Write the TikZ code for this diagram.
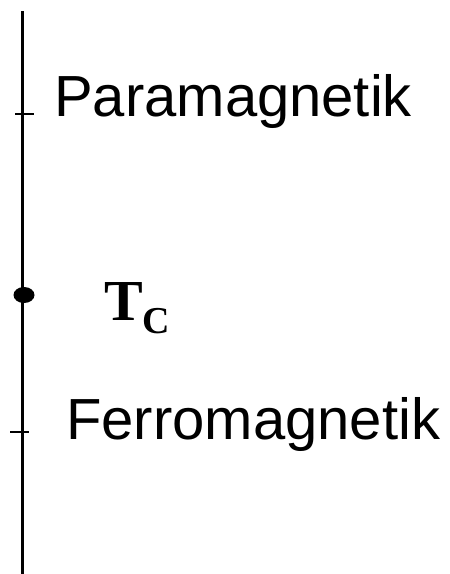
\documentclass[tikz,border=0pt]{standalone}
\usepackage{fontspec}
\setmainfont{Liberation Sans}
\newfontfamily\serifbf{Liberation Serif}
\tikzset{
  axisline/.style={line width=3pt, black},
  tickline/.style={line width=2pt, black},
  phaselabel/.style={anchor=base west, inner sep=0pt, font=\fontsize{58}{58}\selectfont},
}
\begin{document}
\begin{tikzpicture}[x=1pt,y=-1pt]
\useasboundingbox (0,0) rectangle (450,574);
\fill[white] (0,0) rectangle (450,574);
\coordinate (top) at (22.5,11);
\coordinate (bot) at (22.5,574);
\draw[axisline] (top) -- (bot);
\coordinate (t1a) at (15,114);
\coordinate (t1b) at (34,114);
\coordinate (t2a) at (10,432);
\coordinate (t2b) at (29,432);
\draw[tickline] (t1a) -- (t1b);
\draw[tickline] (t2a) -- (t2b);
\fill (24,295) ellipse (10.5 and 8);
\node[phaselabel] (para) at (54,116) {Paramagnetik};
\node[phaselabel] (ferro) at (66,439) {Ferromagnetik};
\node[anchor=base west, inner sep=0pt] (tc) at (104,320) {\serifbf\bfseries\fontsize{58}{58}\selectfont T\raisebox{-13pt}{\fontsize{38}{38}\selectfont C}};
\end{tikzpicture}
\end{document}
